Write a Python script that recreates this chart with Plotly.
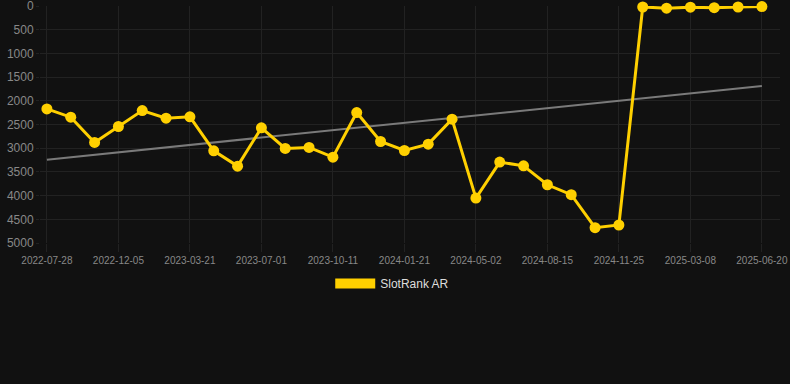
import numpy as np
import plotly.graph_objects as go

tick_labels = ["2022-07-28", "2022-12-05", "2023-03-21", "2023-07-01", "2023-10-11",
               "2024-01-21", "2024-05-02", "2024-08-15", "2024-11-25", "2025-03-08", "2025-06-20"]

rank = [2170, 2345, 2879, 2542, 2205, 2366, 2338, 3055, 3378, 2570,
        3005, 2984, 3188, 2247, 2858, 3048, 2914, 2388, 4052, 3293,
        3371, 3771, 3981, 4677, 4620, 20, 45, 25, 35, 20, 10]

idx = list(range(len(rank)))
tick_pos = idx[::3]

slope, intercept = np.polyfit(idx, rank, 1)
trend = [slope * i + intercept for i in (idx[0], idx[-1])]

fig = go.Figure()
fig.add_trace(go.Scatter(x=[idx[0], idx[-1]], y=trend, mode="lines",
                         line=dict(color="#7a7a7a", width=2), showlegend=False,
                         hoverinfo="skip"))
fig.add_trace(go.Scatter(x=idx, y=rank, mode="lines+markers", name="SlotRank AR",
                         line=dict(color="#FFD000", width=3),
                         marker=dict(color="#FFD000", size=11),
                         showlegend=False, cliponaxis=False))
fig.add_trace(go.Scatter(x=[None], y=[None], mode="lines", name="SlotRank AR",
                         line=dict(color="#FFD000", width=12), showlegend=True))

fig.update_layout(
    width=790, height=384,
    margin=dict(l=40, r=10, t=6, b=141),
    paper_bgcolor="#111111", plot_bgcolor="#111111",
    font=dict(family="Arial, Liberation Sans, sans-serif", color="#888888"),
    showlegend=True,
    legend=dict(orientation="h", x=0.476, xanchor="center",
                y=-0.11, yanchor="top",
                font=dict(size=12, color="#dddddd"), itemwidth=40,
                bgcolor="rgba(0,0,0,0)"),
    xaxis=dict(range=[-0.29, 30.76], tickmode="array", tickvals=tick_pos,
               ticktext=tick_labels, tickfont=dict(size=10, color="#888888"),
               showgrid=True, gridcolor="#222222", zeroline=False,
               showline=False, ticks="outside", ticklen=8, tickcolor="#222222",
               tickangle=0, ticklabeloverflow="allow", automargin=False),
    yaxis=dict(range=[5000, -1], tickmode="array", tickvals=list(range(0, 5001, 500)),
               tickfont=dict(size=12, color="#888888"), showgrid=True,
               gridcolor="#222222", zeroline=False, showline=False,
               ticks="outside", ticklen=3, tickcolor="#222222",
               ticklabeloverflow="allow", automargin=False),
)

fig.write_html("out.html", config={"displayModeBar": False},
               post_script="document.body.style.margin='0';document.body.style.background='#111111';")
